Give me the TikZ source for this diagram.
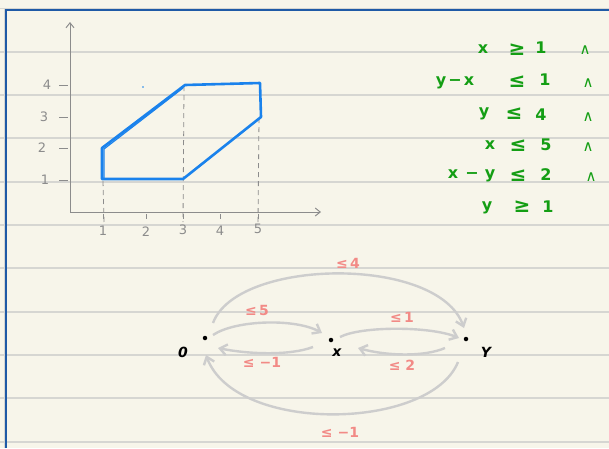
\documentclass[tikz,border=0pt]{standalone}
\usepackage{fontspec}
\setmainfont{DejaVu Sans}
\usetikzlibrary{arrows.meta,calc}
\definecolor{paper}{HTML}{F7F5EA}
\definecolor{rule}{HTML}{D6D6D2}
\definecolor{border}{HTML}{1F5AA6}
\definecolor{axis}{HTML}{8C8C8C}
\definecolor{poly}{HTML}{1A82EC}
\definecolor{cons}{HTML}{149E14}
\definecolor{edgec}{HTML}{CDCDCD}
\definecolor{lab}{HTML}{F28A86}
\tikzset{
  ruleline/.style={rule, line width=1.2pt},
  axisline/.style={axis, line width=1pt, -{Straight Barb[length=5pt,width=8pt]}},
  tickl/.style={axis, font=\fontsize{13}{13}\selectfont, inner sep=0pt},
  guide/.style={axis, line width=0.8pt, dash pattern=on 5pt off 4pt},
  constr/.style={cons, font=\fontsize{16}{16}\selectfont\bfseries, anchor=base, inner sep=0pt},
  relsym/.style={cons, font=\fontsize{20}{20}\selectfont\bfseries, anchor=base, inner sep=0pt},
  andsym/.style={cons, font=\fontsize{15}{15}\selectfont, anchor=base, inner sep=0pt},
  vtx/.style={circle, fill=black, minimum size=4.5pt, inner sep=0pt},
  vlab/.style={font=\fontsize{14}{14}\selectfont\bfseries\itshape, inner sep=0pt},
  edge/.style={edgec, line width=2.4pt, -{Straight Barb[length=7pt,width=11pt]}},
  elab/.style={lab, font=\fontsize{14}{14}\selectfont\bfseries, inner sep=0pt}
}
\begin{document}
\begin{tikzpicture}[x=1pt,y=-1pt]
\fill[paper] (0,0) rectangle (609,448);
\useasboundingbox (0,0) rectangle (609,448);
% ruled lines
\foreach \yy in {52,95,138,182,225,268,312,355,398,442}
  \draw[ruleline] (0,\yy) -- (609,\yy);
\draw[rule, line width=1pt] (0,8) -- (609,8);
\draw[rule, line width=0.8pt] (4,8) -- (4,448);
% border
\draw[border, line width=2.2pt] (6,448) -- (6,10) -- (609,10);

% axes
\coordinate (O) at (70,212);
\coordinate (Xend) at (321,212);
\coordinate (Yend) at (70,22);
\draw[axisline] (O) -- (Xend);
\draw[axisline] (O) -- (Yend);
% y ticks
\foreach \yy/\lx/\t in {85/47/4,117/44/3,148/42/2,180/45/1}{
  \draw[axis, line width=0.9pt] (59,\yy) -- (68,\yy);
  \node[tickl] at (\lx,\yy) {\t};
}
% x ticks
\foreach \xx/\ly/\t in {103/231/1,146/232/2,183/230/3,220/231/4,258/229/5}{
  \draw[axis, line width=0.9pt] (\xx,214) -- (\xx,219);
  \node[tickl] at (\xx,\ly) {\t};
}
% guides
\draw[guide] (103,181) -- (104,222);
\draw[guide] (184,86) -- (183,222);
\draw[guide] (259,118) -- (258,222);
% polygon
\draw[poly, line width=2.6pt, line join=round]
  (102,179) -- (102,148) -- (185,85) -- (260,83) -- (261,117) -- (183,179) -- cycle;
\draw[poly, line width=1.2pt] (104,178) -- (104,149) -- (183,88);
\fill[poly] (143,87) circle (0.8pt);

% constraints
\node[constr] at (483,53) {x};
\node[relsym] at (517,55) {≥};
\node[constr] at (541,53) {1};
\node[andsym] at (585,54) {∧};

\node[constr] at (441,85) {y};
\node[constr] at (455,85) {−};
\node[constr] at (469,85) {x};
\node[relsym] at (517,87) {≤};
\node[constr] at (545,85) {1};
\node[andsym] at (588,87) {∧};

\node[constr] at (484,116) {y};
\node[relsym] at (514,119) {≤};
\node[constr] at (541,120) {4};
\node[andsym] at (588,121) {∧};

\node[constr] at (490,149) {x};
\node[relsym] at (518,151) {≤};
\node[constr] at (546,150) {5};
\node[andsym] at (588,151) {∧};

\node[constr] at (453,178) {x};
\node[constr] at (472,178) {−};
\node[constr] at (490,178) {y};
\node[relsym] at (518,181) {≤};
\node[constr] at (546,180) {2};
\node[andsym] at (591,181) {∧};

\node[constr] at (487,210) {y};
\node[relsym] at (522,212) {≥};
\node[constr] at (548,212) {1};

% graph
\node[vtx] (o) at (205,338) {};
\node[vtx] (x) at (331,340) {};
\node[vtx] (y) at (466,339) {};
\node[vlab] (olab) at (183,352) {0};
\node[vlab] (xlab) at (337,353) {x};
\node[vlab] (ylab) at (486,352) {Y};

\draw[edge] ($(o)+(8,-3)$) .. controls ($(o)+(30,-18)$) and ($(x)+(-36,-22)$) .. ($(x)+(-9,-7)$);
\draw[edge] ($(x)+(-18,7)$) .. controls ($(x)+(-42,16)$) and ($(o)+(42,16)$) .. ($(o)+(13,10)$);
\draw[edge] ($(x)+(9,-3)$) .. controls ($(x)+(30,-14)$) and ($(y)+(-36,-13)$) .. ($(y)+(-7,-1)$);
\draw[edge] ($(y)+(-21,9)$) .. controls ($(y)+(-42,18)$) and ($(x)+(56,16)$) .. ($(x)+(27,8)$);
\draw[edge] ($(o)+(8,-15)$) .. controls ($(o)+(32,-80)$) and ($(y)+(-28,-84)$) .. ($(y)+(-2,-11)$);
\draw[edge] ($(y)+(-8,23)$) .. controls ($(y)+(-36,92)$) and ($(o)+(30,96)$) .. ($(o)+(1,17)$);

\node[elab] at (257,310) {≤\,5};
\node[elab] at (262,362) {≤ −1};
\node[elab] at (402,317) {≤\,1};
\node[elab] at (402,365) {≤ 2};
\node[elab] at (348,263) {≤\,4};
\node[elab] at (340,432) {≤ −1};
\end{tikzpicture}
\end{document}
